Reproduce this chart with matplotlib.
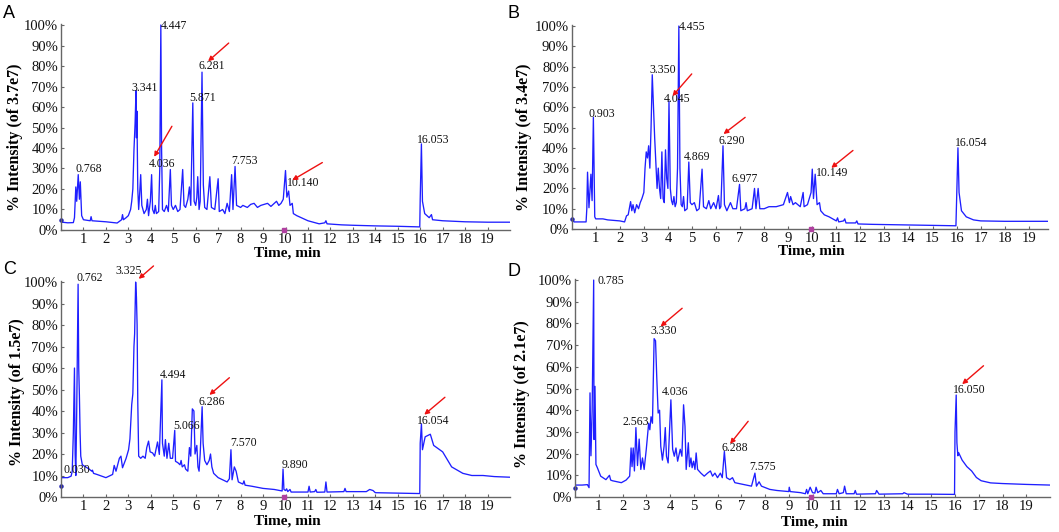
import matplotlib
matplotlib.use('Agg')
import matplotlib.pyplot as plt

plt.rcParams['font.family'] = ['Liberation Serif', 'DejaVu Serif']

# ---- panel A : TIC, scale 3.7e7 ----
a_time = [0.0, 0.05, 0.3, 0.55, 0.6, 0.66, 0.7, 0.768, 0.82, 0.86, 0.92, 1.0, 1.3, 1.34, 1.38, 2.0, 2.5, 2.7, 2.74, 2.78,
          2.9, 3.0, 3.1, 3.15, 3.2, 3.25, 3.3, 3.341, 3.36, 3.38, 3.42, 3.46, 3.5, 3.55, 3.6, 3.7, 3.8, 3.85, 3.9, 3.98,
          4.036, 4.08, 4.15, 4.2, 4.25, 4.35, 4.4, 4.447, 4.48, 4.52, 4.6, 4.7, 4.78, 4.87, 4.92, 5.0, 5.1, 5.2, 5.3, 5.42,
          5.48, 5.55, 5.65, 5.72, 5.78, 5.871, 5.93, 6.0, 6.05, 6.09, 6.15, 6.2, 6.281, 6.34, 6.4, 6.5, 6.63, 6.7, 6.85, 7.0,
          7.05, 7.2, 7.3, 7.4, 7.5, 7.6, 7.66, 7.753, 7.82, 8.0, 8.1, 8.3, 8.45, 8.6, 8.75, 8.9, 9.05, 9.2, 9.35, 9.5,
          9.6, 9.7, 9.8, 9.9, 10.0, 10.06, 10.14, 10.2, 10.3, 10.35, 10.5, 10.7, 11.0, 11.5, 11.75, 11.8, 11.85, 12.5, 13.0, 14.0,
          15.0, 15.98, 16.0, 16.053, 16.1, 16.2, 16.4, 16.5, 16.55, 17.0, 18.0, 19.0, 20.0]
a_int = [4.8, 3.8, 3.5, 3.6, 6, 21, 14, 27, 15, 23.5, 7, 5, 4.5, 6.5, 4.5, 4, 3.4, 5, 7.5, 5,
         6, 7, 10, 14, 20, 39, 52, 68, 45, 58, 20, 10, 17, 27, 12, 8, 10, 15, 7, 14,
         27, 10, 8, 12, 8, 9, 30, 100, 40, 10, 9, 12, 9, 29.5, 12, 10, 12, 9, 10, 29.5,
         12, 11, 15, 21, 12, 62, 14, 12, 16, 26, 10, 14, 77, 22, 11, 10, 26, 11, 10, 25,
         9, 10, 8, 13, 9, 27, 10, 31, 12, 11, 12, 11, 12.5, 13, 11, 12, 12.5, 13, 11.5, 13,
         14, 12, 13, 15, 29, 16, 19, 12, 13, 8, 7, 6, 4.5, 3, 3.5, 4.5, 3, 2.5, 2.3, 2,
         1.8, 1.5, 15, 42, 14, 8, 6, 7.5, 5, 4.5, 4, 3.8, 3.8]
a_labels = ['0.768', '3.341', '4.036', '4.447', '5.871', '6.281', '7.753', '10.140', '16.053']
a_lab_x = [0.63, 3.13, 3.90, 4.45, 5.72, 6.13, 7.58, 10.08, 15.84]
a_lab_y = [29.7, 69.4, 32.4, 99.7, 64.3, 80.2, 33.5, 23.0, 43.8]
a_arrow_head = [(4.15, 35.7), (6.55, 82.3), (10.30, 24.3)]
a_arrow_tail = [(4.94, 50.6), (7.47, 91.2), (11.64, 32.9)]

# ---- panel B : TIC, scale 3.4e7 ----
b_time = [0.0, 0.05, 0.1, 0.6, 0.63, 0.66, 0.72, 0.8, 0.85, 0.903, 0.96, 1.0, 1.3, 1.5, 2.0, 2.2, 2.28, 2.35, 2.45, 2.5,
          2.55, 2.62, 2.7, 2.78, 2.85, 2.92, 3.0, 3.05, 3.1, 3.15, 3.2, 3.25, 3.3, 3.35, 3.4, 3.45, 3.5, 3.55, 3.6, 3.65,
          3.7, 3.75, 3.8, 3.85, 3.9, 3.95, 4.0, 4.045, 4.1, 4.15, 4.2, 4.25, 4.3, 4.35, 4.4, 4.455, 4.5, 4.55, 4.6, 4.65,
          4.7, 4.8, 4.869, 4.93, 5.0, 5.1, 5.2, 5.3, 5.42, 5.48, 5.6, 5.7, 5.78, 5.9, 6.0, 6.1, 6.15, 6.2, 6.29, 6.35,
          6.45, 6.6, 6.7, 6.85, 6.977, 7.03, 7.2, 7.25, 7.3, 7.5, 7.6, 7.66, 7.75, 7.82, 8.0, 8.2, 8.5, 8.8, 8.97, 9.05,
          9.1, 9.2, 9.3, 9.5, 9.62, 9.66, 9.8, 9.95, 10.0, 10.05, 10.12, 10.2, 10.3, 10.35, 10.5, 10.7, 11.0, 11.05, 11.1, 11.3,
          11.35, 11.4, 11.8, 11.85, 11.9, 12.5, 13.0, 14.0, 15.0, 15.97, 16.0, 16.054, 16.1, 16.2, 16.4, 16.7, 17.0, 18.0, 19.8]
b_int = [5, 4.5, 3.5, 3.5, 10, 28, 10.5, 27, 14, 55, 6, 5, 5, 4.5, 4, 3.5, 6.5, 7, 13.5, 9,
         12, 8, 12, 10, 13, 15, 18, 30, 38, 35, 41, 30, 50, 76, 60, 45, 32, 20, 30, 20,
         15, 38, 15, 13, 39, 25, 20, 63, 20, 14, 12, 16, 11, 13, 30, 100, 30, 12, 11, 16,
         9, 10, 33, 13, 12, 13, 9, 10, 29.5, 11, 10, 14, 10, 13, 10, 16.5, 10, 11, 41, 12,
         9, 13, 10, 10, 22, 9, 10, 13, 9, 10, 20, 10, 20, 10, 10, 11, 11, 12, 18, 13,
         16, 12, 13, 11, 18, 11, 12, 18, 29.5, 15, 27, 12, 13, 9, 7, 6, 4, 5.5, 3.5, 4,
         5, 3, 3, 4, 2.5, 2.3, 2.2, 2, 1.8, 1.6, 15, 40, 18, 9, 6, 4.5, 4, 3.8, 3.8]
b_labels = ['0.903', '3.350', '4.045', '4.455', '4.869', '6.290', '6.977', '10.149', '16.054']
b_lab_x = [0.72, 3.22, 3.85, 4.47, 4.68, 6.11, 6.63, 10.17, 15.93]
b_lab_y = [56.6, 78.5, 63.9, 99.7, 35.4, 43.3, 24.4, 27.8, 42.3]
b_arrow_head = [(4.19, 65.5), (6.31, 46.8), (10.79, 30.1)]
b_arrow_tail = [(4.99, 76.4), (7.21, 55.0), (11.69, 38.7)]

# ---- panel C : TIC, scale 1.5e7 ----
c_time = [0.0, 0.02, 0.3, 0.45, 0.5, 0.55, 0.6, 0.63, 0.66, 0.7, 0.762, 0.79, 0.82, 0.85, 0.88, 0.95, 1.25, 1.37, 1.4, 1.45,
          1.6, 2.0, 2.3, 2.37, 2.45, 2.6, 2.67, 2.74, 2.9, 3.01, 3.07, 3.15, 3.2, 3.25, 3.28, 3.325, 3.36, 3.39, 3.42, 3.46,
          3.55, 3.65, 3.75, 3.82, 3.9, 3.97, 4.08, 4.17, 4.3, 4.38, 4.494, 4.52, 4.6, 4.65, 4.72, 4.8, 4.87, 4.97, 5.066, 5.1,
          5.2, 5.3, 5.35, 5.4, 5.5, 5.55, 5.65, 5.72, 5.78, 5.85, 5.92, 5.97, 6.05, 6.1, 6.15, 6.2, 6.286, 6.33, 6.4, 6.5,
          6.6, 6.66, 6.72, 6.8, 7.0, 7.2, 7.4, 7.5, 7.57, 7.62, 7.72, 7.8, 7.9, 8.1, 8.15, 8.2, 8.5, 9.0, 9.5, 9.85,
          9.89, 9.93, 10.0, 10.05, 10.1, 10.2, 10.25, 11.0, 11.05, 11.1, 11.3, 11.35, 11.4, 11.75, 11.8, 11.85, 12.6, 12.65, 12.7, 13.6,
          13.75, 13.9, 14.0, 15.0, 15.98, 16.0, 16.054, 16.1, 16.22, 16.45, 16.6, 17.0, 17.4, 17.9, 18.3, 18.8, 19.3, 20.0]
c_int = [5, 9, 9, 9.7, 12, 30, 60, 20, 10, 40, 99, 60, 47, 30, 19, 15, 13, 12, 12.5, 11,
         10.5, 9, 10.5, 14.7, 12, 18, 19, 13.6, 18, 22, 27, 43, 48, 70, 76, 100, 93, 80, 44, 19,
         18, 19, 18, 23, 26, 21, 20.5, 19, 25.6, 19.8, 54.5, 25, 19, 26.7, 18, 25, 18, 18, 31, 16.6,
         16, 15, 17, 14, 15, 13, 12, 23, 19, 41, 40, 20, 24, 14, 12, 20, 42, 25, 17, 15,
         17, 20, 14, 11, 9, 8, 7, 8.5, 22, 8, 14, 12, 7, 6, 7.5, 5.5, 5, 4, 3.5, 2.8,
         13, 3.5, 3, 3.8, 2.5, 3.5, 2.3, 2.3, 5, 2.3, 2.5, 3.5, 2.2, 2.3, 7, 2.3, 2.5, 4, 2.5, 2.5,
         3.5, 3, 2, 1.8, 1.6, 25, 34, 22, 28, 29.2, 24, 21, 14, 11, 10, 10, 9.5, 9.2]
c_labels = ['0.030', '0.762', '3.325', '4.494', '5.066', '6.286', '7.570', '9.890', '16.054']
c_lab_x = [0.11, 0.70, 2.41, 4.39, 5.02, 6.13, 7.55, 9.82, 15.84]
c_lab_y = [12.5, 102.0, 105.0, 56.8, 32.9, 44.4, 25.2, 15.1, 35.5]
c_arrow_head = [(3.46, 101.5), (6.61, 47.5), (16.18, 38.3)]
c_arrow_tail = [(4.12, 107.5), (7.50, 55.5), (17.10, 46.4)]

# ---- panel D : TIC, scale 2.1e7 ----
d_time = [0.0, 0.02, 0.3, 0.5, 0.52, 0.59, 0.63, 0.67, 0.72, 0.785, 0.8, 0.84, 0.88, 0.94, 1.08, 1.3, 1.45, 1.5, 1.57, 1.95,
          2.15, 2.3, 2.36, 2.4, 2.45, 2.5, 2.563, 2.63, 2.7, 2.77, 2.84, 2.91, 3.0, 3.1, 3.15, 3.2, 3.26, 3.33, 3.39, 3.44,
          3.5, 3.56, 3.61, 3.68, 3.75, 3.8, 3.85, 3.92, 4.036, 4.11, 4.18, 4.25, 4.32, 4.43, 4.5, 4.57, 4.63, 4.68, 4.77, 4.82,
          4.88, 4.93, 4.99, 5.05, 5.1, 5.16, 5.3, 5.44, 5.58, 5.7, 5.79, 5.89, 6.0, 6.12, 6.2, 6.288, 6.38, 6.52, 6.63, 6.73,
          7.08, 7.43, 7.575, 7.64, 7.75, 7.85, 8.2, 8.5, 9.0, 9.02, 9.06, 9.5, 9.7, 9.75, 9.8, 9.9, 10.0, 10.1, 10.15, 10.22,
          10.35, 10.45, 11.0, 11.05, 11.12, 11.3, 11.35, 11.42, 11.75, 11.8, 11.85, 12.65, 12.7, 12.8, 13.8, 13.85, 14.0, 15.0, 15.98, 16.0,
          16.05, 16.08, 16.12, 16.15, 16.3, 16.5, 16.7, 16.9, 17.1, 17.5, 18.0, 19.0, 20.0]
d_int = [4.3, 5.5, 5.5, 5.7, 5.7, 4.3, 48, 19, 39.5, 100, 26.5, 51, 15, 13.5, 9.6, 8, 10, 7.8, 7.5, 6.6,
         7.8, 9.6, 22.6, 14, 22.6, 12, 32, 14.5, 26.7, 12.7, 18, 12.7, 22, 34, 31, 37, 34, 73, 72, 55.5,
         38.7, 40, 23.4, 17, 23.4, 32, 18.8, 15.7, 44.8, 22, 18.8, 22.6, 16.5, 22, 18.8, 42.5, 32.6, 12.7, 25, 14,
         18, 13.5, 16.5, 12.7, 20.3, 12.7, 11, 9.6, 11, 12, 9.6, 11, 8.9, 11, 8.9, 21, 8.9, 8, 8.9, 6.6,
         5.8, 5, 11, 5, 7, 5, 3.5, 3, 2.5, 4.5, 2.5, 2, 1.5, 3.5, 1.5, 4.5, 2, 1.8, 4.5, 2,
         3, 1.5, 1.5, 3.5, 1.5, 2, 5, 1.5, 1.5, 3, 1.3, 1.5, 3, 1.3, 1.5, 2, 1.3, 1.3, 1.2, 30,
         47, 25, 19, 20.5, 17, 14, 12, 9, 7.5, 6.5, 6.2, 5.8, 5.5]
d_labels = ['0.785', '2.563', '3.330', '4.036', '6.288', '7.575', '16.050']
d_lab_x = [0.93, 1.98, 3.18, 3.67, 6.16, 7.33, 15.91]
d_lab_y = [99.7, 34.5, 76.3, 48.4, 22.7, 13.9, 49.5]
d_arrow_head = [(3.60, 78.6), (6.53, 24.5), (16.30, 52.0)]
d_arrow_tail = [(4.51, 87.0), (7.29, 34.9), (17.20, 60.5)]

panels = [
    ('A', '3.7e7', a_time, a_int, a_labels, a_lab_x, a_lab_y, a_arrow_head, a_arrow_tail),
    ('B', '3.4e7', b_time, b_int, b_labels, b_lab_x, b_lab_y, b_arrow_head, b_arrow_tail),
    ('C', '1.5e7', c_time, c_int, c_labels, c_lab_x, c_lab_y, c_arrow_head, c_arrow_tail),
    ('D', '2.1e7', d_time, d_int, d_labels, d_lab_x, d_lab_y, d_arrow_head, d_arrow_tail),
]

# layout (figure fractions) and per-panel details
boxes = [[0.0576, 0.5677, 0.424, 0.3872],
         [0.5398, 0.5695, 0.4499, 0.3835],
         [0.0576, 0.0658, 0.424, 0.4060],
         [0.5430, 0.0658, 0.4485, 0.4098]]
xmax = [20, 19.8, 20, 20]
ylab_xy = [(-0.085, 0.45), (-0.084, 0.45), (-0.08, 0.486), (-0.095, 0.47)]
xlab_y = [-0.078, -0.078, -0.079, -0.087]
letter_xy = [(0.003, 0.99), (0.479, 0.99), (0.003, 0.51), (0.479, 0.505)]

fig = plt.figure(figsize=(10.59, 5.32), dpi=100)

for i, (letter, scale, t, y, labs, lx, ly, heads, tails) in enumerate(panels):
    ax = fig.add_axes(boxes[i])
    ax.plot(t, y, color='#1f1fff', lw=0.95)
    ax.plot(t[0], y[0], 'o', color='#1f1fb0', ms=2.2, clip_on=False)
    ax.plot(9.93, 0, 's', color='#b040a0', ms=2.5, clip_on=False, zorder=5)
    ax.set_xlim(0, xmax[i])
    ax.set_ylim(0, 100.5)
    ax.set_xticks(range(1, 20))
    ax.set_yticks(range(0, 101, 10))
    ax.set_yticklabels(['%d%%' % v for v in range(0, 101, 10)])
    for s in ['top', 'right']:
        ax.spines[s].set_visible(False)
    for s in ['left', 'bottom']:
        ax.spines[s].set_color('#666666')
        ax.spines[s].set_linewidth(1.0)
    ax.tick_params(direction='in', length=2.5, width=0.8, color='#666666',
                   labelsize=10.5, pad=2, labelcolor='#111111')
    ax.set_ylabel('%% Intensity (of %s)' % scale, fontsize=11.5, fontweight='bold')
    ax.yaxis.set_label_coords(*ylab_xy[i])
    ax.set_xlabel('Time, min', fontsize=11, fontweight='bold')
    ax.xaxis.set_label_coords(0.503, xlab_y[i])

    for txt, x0, y0 in zip(labs, lx, ly):
        ax.text(x0, y0, txt, fontsize=8.5, ha='left', va='center',
                color='#111111', clip_on=False)
    for h, tl in zip(heads, tails):
        ax.annotate('', xy=h, xytext=tl, annotation_clip=False,
                    arrowprops=dict(arrowstyle='-|>', color='#ee1111', lw=1.0,
                                    mutation_scale=7, shrinkA=0, shrinkB=0))

    fig.text(letter_xy[i][0], letter_xy[i][1], letter, family='Liberation Sans',
             fontsize=13, ha='left', va='top')

fig.savefig('out.png', dpi=100)
